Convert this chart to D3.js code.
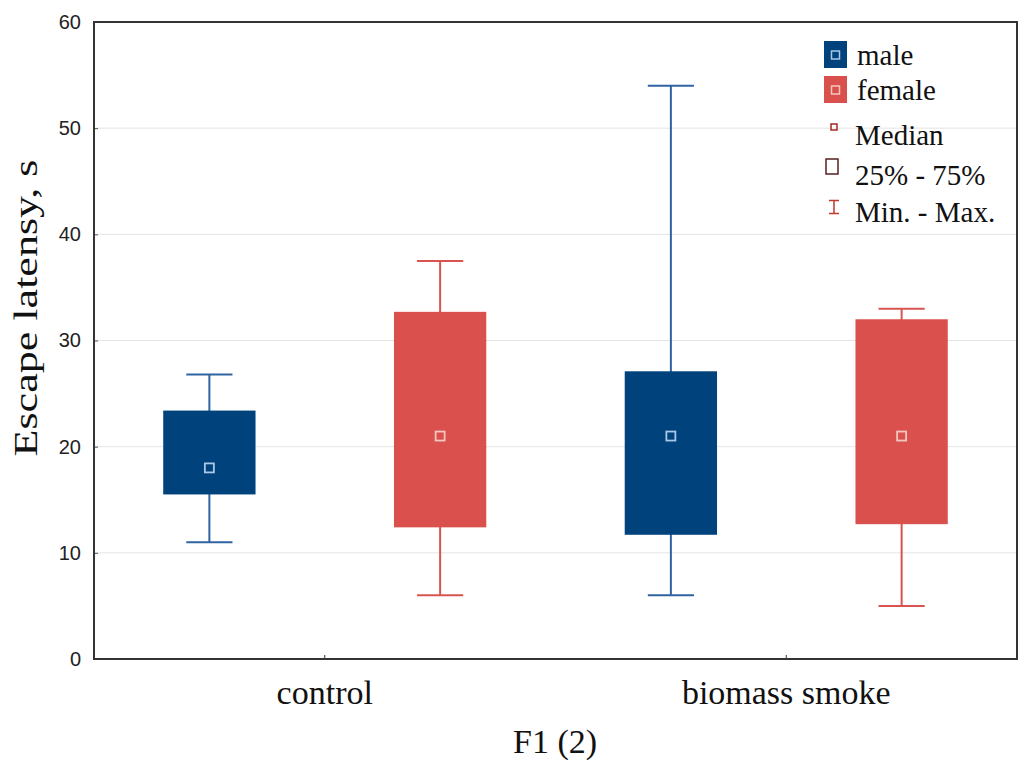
<!DOCTYPE html>
<html>
<head>
<meta charset="utf-8">
<script src="https://cdn.jsdelivr.net/npm/d3@7"></script>
<style>
  body { margin: 0; background: #fff; }
</style>
</head>
<body>
<svg id="chart" width="1024" height="760"></svg>
<script>
// Dades llegides del gràfic
const categories = ["control", "biomass smoke"];
const sexes = ["male", "female"];

const maleMin    = [11.0, 6.0];
const maleQ1     = [15.5, 11.7];
const maleMedian = [18.0, 21.0];
const maleQ3     = [23.4, 27.1];
const maleMax    = [26.8, 54.0];

const femaleMin    = [6.0, 5.0];
const femaleQ1     = [12.4, 12.7];
const femaleMedian = [21.0, 21.0];
const femaleQ3     = [32.7, 32.0];
const femaleMax    = [37.5, 33.0];

const yTicks = [0, 10, 20, 30, 40, 50, 60];

const stats = {
    male:   { min: maleMin, q1: maleQ1, med: maleMedian, q3: maleQ3, max: maleMax },
    female: { min: femaleMin, q1: femaleQ1, med: femaleMedian, q3: femaleQ3, max: femaleMax }
};

const boxColor     = { male: "#00427c", female: "#d9504c" };
const whiskerColor = { male: "#2f63a0", female: "#d9534f" };
const medianColor  = { male: "#a9c8e8", female: "#f4c6c0" };

const svg = d3.select("#chart");
const margin = { top: 22, right: 7, bottom: 101, left: 94 },
      width = +svg.attr("width") - margin.left - margin.right,
      height = +svg.attr("height") - margin.top - margin.bottom;

const g = svg.append("g").attr("transform", `translate(${margin.left},${margin.top})`);

const x0 = d3.scaleBand().domain(categories).range([0, width]);
const x1 = d3.scaleBand().domain(sexes).range([0, x0.bandwidth()]);
const y = d3.scaleLinear().domain([0, 60]).range([height, 0]);

// Graella
g.append("g")
 .selectAll("line")
 .data(yTicks.filter(t => t > 0 && t < 60))
 .enter()
 .append("line")
 .attr("x1", 0).attr("x2", width)
 .attr("y1", d => y(d)).attr("y2", d => y(d))
 .attr("stroke", "#e4e4e4")
 .attr("stroke-width", 1);

// Eix Y
const yAxis = g.append("g")
 .call(d3.axisLeft(y).tickValues(yTicks).tickSize(-4).tickPadding(13));
yAxis.select(".domain").remove();
yAxis.selectAll("line").attr("stroke", "#555");
yAxis.selectAll("text")
     .attr("font-family", "Liberation Sans, Arial, sans-serif")
     .attr("font-size", 20)
     .attr("fill", "#222");

// Eix X
const xAxis = g.append("g")
 .attr("transform", `translate(0,${height})`)
 .call(d3.axisBottom(x0).tickSize(-4).tickPadding(13));
xAxis.select(".domain").remove();
xAxis.selectAll("line").attr("stroke", "#333");
xAxis.selectAll("text")
     .attr("font-family", "Liberation Serif, Times New Roman, serif")
     .attr("font-size", 34)
     .attr("dy", "0.95em")
     .attr("fill", "#111");

// Marc
g.append("rect")
 .attr("width", width).attr("height", height)
 .attr("fill", "none")
 .attr("stroke", "#333")
 .attr("stroke-width", 2);

// Caixes
const boxW = x1.bandwidth() * 0.4;
const capW = x1.bandwidth() * 0.2;

categories.forEach((c, i) => {
    sexes.forEach(s => {
        const st = stats[s];
        const cx = x0(c) + x1(s) + x1.bandwidth() / 2;
        const bg = g.append("g");

        bg.append("line")
          .attr("x1", cx).attr("x2", cx)
          .attr("y1", y(st.min[i])).attr("y2", y(st.max[i]))
          .attr("stroke", whiskerColor[s]).attr("stroke-width", 2);
        [st.min[i], st.max[i]].forEach(v => {
            bg.append("line")
              .attr("x1", cx - capW / 2).attr("x2", cx + capW / 2)
              .attr("y1", y(v)).attr("y2", y(v))
              .attr("stroke", whiskerColor[s]).attr("stroke-width", 2);
        });

        bg.append("rect")
          .attr("x", cx - boxW / 2)
          .attr("y", y(st.q3[i]))
          .attr("width", boxW)
          .attr("height", y(st.q1[i]) - y(st.q3[i]))
          .attr("fill", boxColor[s]);

        bg.append("rect")
          .attr("x", cx - 4.5).attr("y", y(st.med[i]) - 4.5)
          .attr("width", 9).attr("height", 9)
          .attr("fill", boxColor[s])
          .attr("stroke", medianColor[s])
          .attr("stroke-width", 1.8);
    });
});

// Títols dels eixos
svg.append("text")
   .attr("transform", "translate(37,308) rotate(-90)")
   .attr("text-anchor", "middle")
   .attr("font-family", "Liberation Serif, Times New Roman, serif")
   .attr("font-size", 34)
   .attr("textLength", 297)
   .attr("lengthAdjust", "spacingAndGlyphs")
   .attr("fill", "#111")
   .text("Escape latensy, s");

svg.append("text")
   .attr("x", 555)
   .attr("y", 753)
   .attr("text-anchor", "middle")
   .attr("font-family", "Liberation Serif, Times New Roman, serif")
   .attr("font-size", 34)
   .attr("fill", "#111")
   .text("F1 (2)");

// Llegenda
const legend = svg.append("g")
   .attr("font-family", "Liberation Serif, Times New Roman, serif")
   .attr("font-size", 29)
   .attr("fill", "#111");

sexes.forEach((s, i) => {
    const ly = 41 + i * 35;
    legend.append("rect")
          .attr("x", 824).attr("y", ly)
          .attr("width", 23).attr("height", 27)
          .attr("fill", boxColor[s]);
    legend.append("rect")
          .attr("x", 831.5).attr("y", ly + 10)
          .attr("width", 8).attr("height", 8)
          .attr("fill", "none")
          .attr("stroke", medianColor[s])
          .attr("stroke-width", 1.5);
    legend.append("text")
          .attr("x", 857).attr("y", ly + 24)
          .text(s);
});

legend.append("rect")
      .attr("x", 831).attr("y", 124)
      .attr("width", 6).attr("height", 6)
      .attr("fill", "none").attr("stroke", "#a52a2a").attr("stroke-width", 1.5);
legend.append("text").attr("x", 855).attr("y", 145).text("Median");

legend.append("rect")
      .attr("x", 826).attr("y", 159)
      .attr("width", 12).attr("height", 15)
      .attr("fill", "none").attr("stroke", "#5a1f1f").attr("stroke-width", 1.5);
legend.append("text").attr("x", 855).attr("y", 185).text("25% - 75%");

legend.append("path")
      .attr("d", "M829,200.5H839M834,200.5V213.5M829,213.5H839")
      .attr("fill", "none").attr("stroke", "#c0392b").attr("stroke-width", 1.5);
legend.append("text").attr("x", 855).attr("y", 222).text("Min. - Max.");
</script>
</body>
</html>
